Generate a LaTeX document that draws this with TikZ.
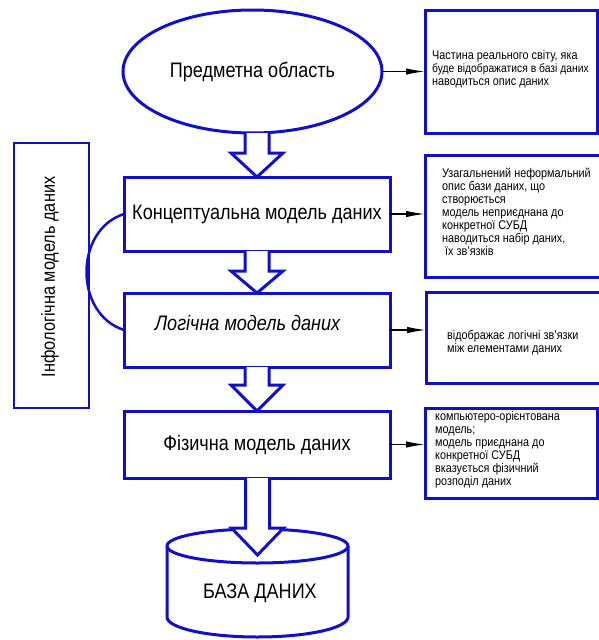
\documentclass[tikz,border=0pt]{standalone}
\usepackage{fontspec}
\setmainfont[FakeStretch=0.86]{Liberation Sans}
\usetikzlibrary{shapes.geometric,arrows.meta,calc}
\definecolor{lineblue}{RGB}{16,16,204}

% hollow block arrow: #1 = start of the shaft, #2 = tip, #3 = head length
\newcommand\blockarrow[3]{%
  \path[hollow] let \p1=(#1), \p2=(#2) in
    (\x2-12pt,\y1) -- (\x2-12pt,\y2+#3) -- (\x2-26pt,\y2+#3) -- (\p2)
    -- (\x2+26pt,\y2+#3) -- (\x2+12pt,\y2+#3) -- (\x2+12pt,\y1);}

\begin{document}
\begin{tikzpicture}[x=1pt,y=-1pt,
  bluebox/.style={draw=lineblue,line width=3pt,fill=white,inner sep=0pt,outer sep=0pt},
  mainlbl/.style={font=\fontsize{21}{24}\selectfont,inner sep=0pt},
  note/.style={font=\fontsize{12.6}{13}\selectfont,align=left,anchor=west,inner sep=0pt},
  hollow/.style={draw=lineblue,line width=3pt,fill=white,line join=miter},
  pointer/.style={draw=black,line width=1.4pt,-{Latex[length=19pt,width=6.5pt]}}]
\useasboundingbox (0,0) rectangle (598,640);

% main chain
\node[bluebox,ellipse,minimum width=259,minimum height=123] (ell) at (252.5,71.5)
  {\fontsize{21}{24}\selectfont Предметна область};
\node[bluebox,minimum width=266,minimum height=74] (b1) at (257,214)
  {\fontsize{21}{24}\selectfont Концептуальна модель даних};
\node[bluebox,minimum width=266,minimum height=74] (b2) at (257,330) {};
\node[mainlbl] (b2t) at (247.5,323) {\itshape Логічна модель даних};
\node[bluebox,minimum width=266,minimum height=67] (b3) at (257,444.5)
  {\fontsize{21}{24}\selectfont Фізична модель даних};

% database cylinder
\draw[draw=lineblue,line width=3pt,fill=white]
  (167,546) -- (167,617) arc[start angle=180,end angle=360,x radius=90.5pt,y radius=20pt]
  -- (348,546) arc[start angle=0,end angle=180,x radius=90.5pt,y radius=17pt] -- cycle;
\draw[draw=lineblue,line width=3pt]
  (167,546) arc[start angle=180,end angle=360,x radius=90.5pt,y radius=17pt];
\coordinate (dbtip) at (257.5,555);
\node[mainlbl] (db) at (260,593) {БАЗА ДАНИХ};

% block arrows between the levels
\blockarrow{ell.south}{b1.north}{24pt}
\blockarrow{b1.south}{b2.north}{22pt}
\blockarrow{b2.south}{b3.north}{26pt}
\blockarrow{b3.south}{dbtip}{27pt}

% infological model bracket
\node[bluebox,line width=2.5pt,minimum width=75,minimum height=265] (L) at (51.5,275.5) {};
\node[mainlbl,rotate=90,font=\fontsize{19}{22}\selectfont] (Lt) at (50,277) {Інфологічна модель даних};
\draw[draw=lineblue,line width=2.5pt] (b1.west) .. controls +(-50,16) and +(-50,-16) .. (b2.west);

% description boxes
\node[bluebox,minimum width=172,minimum height=123] (R1) at (511,71.5) {};
\node[bluebox,minimum width=177,minimum height=122] (R2) at (513.5,216) {};
\node[bluebox,minimum width=176,minimum height=91] (R3) at (514,337.5) {};
\node[bluebox,minimum width=172,minimum height=90] (R4) at (511,453) {};

\node[note] (t1) at (432,69) {Частина реального світу, яка\\{\fontsize{12}{13}\selectfont буде відображатися в базі даних}\\наводиться опис даних};
\node[note] (t2) at (442,212) {Узагальнений неформальний\\опис бази даних, що\\створюється\\модель неприєднана до\\конкретної СУБД\\наводиться набір даних,\\\ їх зв’язків};
\node[note] (t3) at (447,342.5) {відображає логічні зв’язки\\між елементами даних};
\node[note] (t4) at (435,450) {компьютеро-орієнтована\\модель;\\модель приєднана до\\конкретної СУБД\\вказується фізичний\\розподіл даних};

% pointers to the descriptions
\draw[pointer] (ell.east) -- (ell.east -| R1.west);
\draw[pointer] (b1.east) -- (b1.east -| R2.west);
\draw[pointer] (b2.east) -- (b2.east -| R3.west);
\draw[pointer] (b3.east) -- (b3.east -| R4.west);
\end{tikzpicture}
\end{document}
